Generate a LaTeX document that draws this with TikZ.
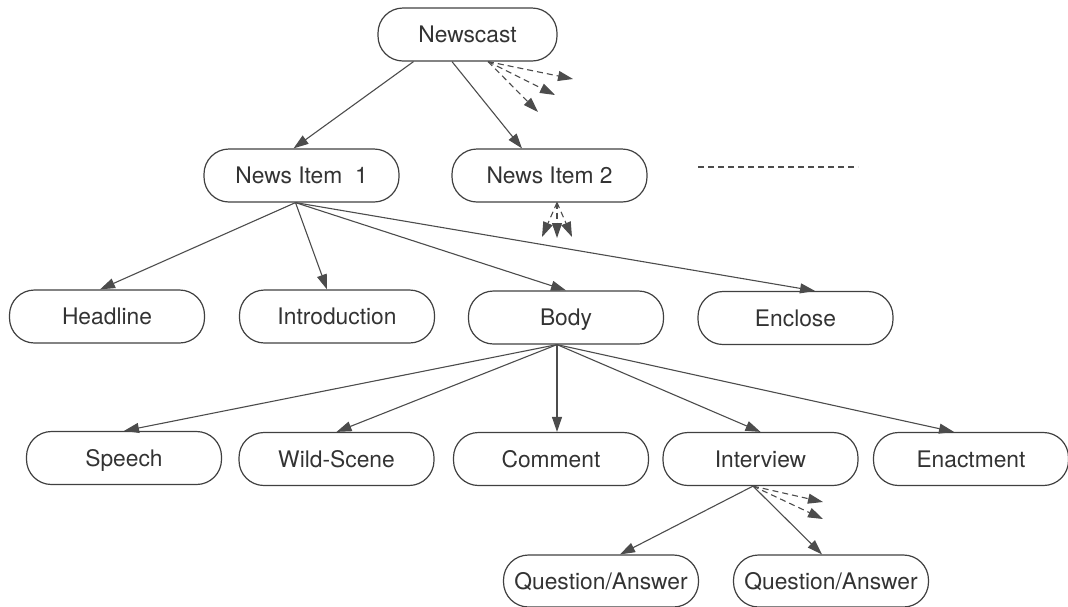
\documentclass[tikz,border=0pt]{standalone}
\usepackage{fontspec}
\setmainfont{TeX Gyre Heros}
\usetikzlibrary{arrows.meta, positioning}

\begin{document}
\begin{tikzpicture}[x=0.5pt, y=-0.5pt,
		main/.style = {draw=black!75, line width=0.6pt, rectangle, rounded corners=12.5pt, minimum width=97.5pt, minimum height=26.5pt, inner sep=1pt, text height=10pt, text depth=1.8pt, text=black!80, font=\fontsize{11.4}{13}\selectfont},
		link/.style = {draw=black!70, line width=0.55pt, -{Triangle[length=7.5pt, width=5pt]}},
		hint/.style = {link, dash pattern=on 3pt off 2pt}]
		\useasboundingbox (0,0) rectangle (1068,606);
		\node[main, minimum width=89.5pt] (nc) at (467.5,34.5) {Newscast};
		\node[main] (ni1) at (301.5,175.5) {News Item\ \ 1};
		\node[main] (ni2) at (549.5,175.5) {News Item 2};
		\node[main] (hl) at (107,316.5) {Headline};
		\node[main] (intro) at (337,316.5) {Introduction};
		\node[main] (body) at (566,317.5) {Body};
		\node[main] (encl) at (795.5,318) {Enclose};
		\node[main] (sp) at (124,458) {Speech};
		\node[main] (ws) at (336.5,459) {Wild-Scene};
		\node[main] (com) at (551,459) {Comment};
		\node[main] (intv) at (760.5,459) {Interview};
		\node[main] (enact) at (971,459) {Enactment};
		\node[main, minimum height=26pt] (qa1) at (601,581) {Question/Answer};
		\node[main, minimum height=26pt] (qa2) at (831,581) {Question/Answer};
		% loose ends of the dashed arrows
		\coordinate (nc-a) at (573,79);
		\coordinate (nc-b) at (555,95);
		\coordinate (nc-c) at (538,112);
		\coordinate (ni2-a) at (542,237);
		\coordinate (ni2-b) at (557,238);
		\coordinate (ni2-c) at (572,237);
		\coordinate (iv-a) at (823,502);
		\coordinate (iv-b) at (823,519);
		\coordinate (more-l) at (698,167);
		\coordinate (more-r) at (858,167);
		\draw[link] ([xshift=-27pt]nc.south) -- ([xshift=-4pt]ni1.north);
		\draw[link] ([xshift=-7.75pt]nc.south) -- ([xshift=-13.75pt]ni2.north);
		\draw[hint] ([xshift=10.25pt]nc.south) -- (nc-a);
		\draw[hint] ([xshift=10.25pt]nc.south) -- (nc-b);
		\draw[hint] ([xshift=10.25pt]nc.south) -- (nc-c);
		\draw[hint] ([xshift=3.75pt]ni2.south) -- (ni2-a);
		\draw[hint] ([xshift=3.75pt]ni2.south) -- (ni2-b);
		\draw[hint] ([xshift=3.75pt]ni2.south) -- (ni2-c);
		\draw[draw=black!70, line width=0.55pt, dash pattern=on 3pt off 2pt] (more-l) -- (more-r);
		\draw[link] ([xshift=-3pt]ni1.south) -- ([xshift=-3.5pt]hl.north);
		\draw[link] ([xshift=-3pt]ni1.south) -- ([xshift=-5pt]intro.north);
		\draw[link] ([xshift=-3pt]ni1.south) -- (body.north);
		\draw[link] ([xshift=-3pt]ni1.south) -- ([xshift=9.75pt]encl.north);
		\draw[link] ([xshift=-4.5pt]body.south) -- (sp.north);
		\draw[link] ([xshift=-4.5pt]body.south) -- (ws.north);
		\draw[link] ([xshift=-4.5pt]body.south) -- ([xshift=3pt]com.north);
		\draw[link] ([xshift=-4.5pt]body.south) -- (intv.north);
		\draw[link] ([xshift=-4.5pt]body.south) -- ([xshift=-8.5pt]enact.north);
		\draw[link] ([xshift=-3.75pt]intv.south) -- ([xshift=9.5pt]qa1.north);
		\draw[link] ([xshift=-3.75pt]intv.south) -- ([xshift=-4.5pt]qa2.north);
		\draw[hint] ([xshift=-3.75pt]intv.south) -- (iv-a);
		\draw[hint] ([xshift=-3.75pt]intv.south) -- (iv-b);
	\end{tikzpicture}
\end{document}
